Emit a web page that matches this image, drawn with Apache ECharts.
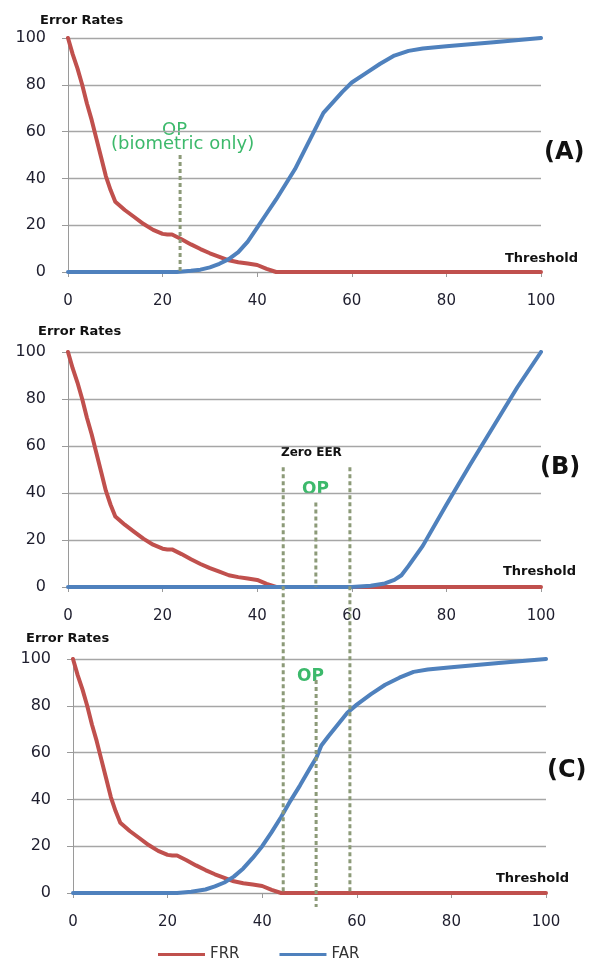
<!DOCTYPE html>
<html>
<head>
<meta charset="utf-8">
<script src="https://cdn.jsdelivr.net/npm/echarts@6/dist/echarts.min.js"></script>
<style>
html,body{margin:0;padding:0;background:#fff;}
#chart{width:590px;height:962px;}
</style>
</head>
<body>
<div id="chart"></div>
<script>
// ---- data ----
const xTicks = [0, 20, 40, 60, 80, 100];
const yTicks = [0, 20, 40, 60, 80, 100];

const frrT = [0, 1, 2, 3, 4, 5, 6, 7, 8, 9, 10, 12, 14, 16, 18, 20, 21, 22, 24, 26, 28, 30, 32, 34, 36, 38, 40, 42, 44, 100];
const frrV = [100, 93, 87, 80, 72, 65, 57, 49, 41, 35, 30, 26.5, 23.5, 20.5, 18, 16.3, 16, 16, 14, 11.8, 9.8, 8, 6.5, 5, 4.2, 3.6, 3, 1.3, 0, 0];

const farAT = [0, 23, 26, 28, 30, 32, 34, 36, 38, 40, 42, 44, 46, 48, 50, 52, 54, 56, 58, 60, 63, 66, 69, 72, 75, 80, 90, 100];
const farAV = [0, 0, 0.5, 1, 2, 3.5, 5.5, 8.5, 13, 19, 25, 31, 37.5, 44, 52, 60, 68, 72.5, 77, 81, 85, 89, 92.5, 94.5, 95.5, 96.5, 98.2, 100];

const farBT = [0, 60, 64, 67, 69, 70.5, 72, 75, 80, 85, 90, 95, 100];
const farBV = [0, 0, 0.5, 1.5, 3, 5, 9, 17.5, 35, 52, 68.5, 85, 100];

const farCT = [0, 22, 25, 28, 30, 32, 34, 36, 38, 40, 42, 44, 46, 48, 50, 51.5, 52.5, 54, 56, 58, 60, 63, 66, 69, 72, 75, 80, 90, 100];
const farCV = [0, 0, 0.5, 1.5, 2.8, 4.5, 7, 10.5, 15, 20, 26, 32.5, 39.5, 46, 53, 58, 63, 67, 72, 77, 80.5, 85, 89, 92, 94.5, 95.5, 96.5, 98.3, 100];

// annotation thresholds / heights
const opA = { t: 23.7, top: 50 };
const eerB = { lo: 45.5, hi: 59.6, top: 51 };
const opB = { t: 52.4, top: 36 };
const opC = { t: 51.4, top: 91, bottom: -6 };

const panelTags = ['(A)', '(B)', '(C)'];
const seriesNames = ['FRR', 'FAR'];

// ---- chart ----
const RED = '#c0504d', BLUE = '#4f81bd', GREEN = '#3cb96b', DASH = '#8c9a78';
const FONT = 'DejaVu Sans';
const zip = (a, b) => a.map((v, i) => [v, b[i]]);

const grids = [
  { left: 68, top: 38, width: 473, height: 234 },
  { left: 68, top: 352, width: 473, height: 235 },
  { left: 73, top: 659, width: 473, height: 234 }
];

function xAx(i) {
  return {
    type: 'value', gridIndex: i, min: 0, max: 100, interval: 20,
    axisLine: { show: true, lineStyle: { color: '#9a9a9a', width: 1 } },
    axisTick: { show: true, length: 5, lineStyle: { color: '#9a9a9a' } },
    splitLine: { show: false },
    axisLabel: { margin: 22, fontFamily: FONT, fontSize: 15, color: '#1e1e2e' }
  };
}
function yAx(i) {
  return {
    type: 'value', gridIndex: i, min: 0, max: 100, interval: 20,
    axisLine: { show: true, lineStyle: { color: '#9a9a9a', width: 1 } },
    axisTick: { show: true, length: 6, lineStyle: { color: '#9a9a9a' } },
    splitLine: { show: true, lineStyle: { color: '#a6a6a6', width: 1.3 } },
    axisLabel: { margin: 22, fontFamily: FONT, fontSize: 16, color: '#1e1e2e' }
  };
}
function line(name, i, data, color) {
  return {
    name: name, type: 'line', xAxisIndex: i, yAxisIndex: i,
    data: data, showSymbol: false, symbol: 'none',
    smooth: false,
    color: color,
    lineStyle: { color: color, width: 4, join: 'round', cap: 'round' },
    z: 3
  };
}

const textStyleBold = (size, color) => ({ fontFamily: FONT, fontWeight: 'bold', fontSize: size, fill: color });

const baseGraphic = [
  { id: 'erA', type: 'text', left: 40, top: 14, style: Object.assign({ text: 'Error Rates' }, textStyleBold(13, '#111')) },
  { id: 'erB', type: 'text', left: 38, top: 325, style: Object.assign({ text: 'Error Rates' }, textStyleBold(13, '#111')) },
  { id: 'erC', type: 'text', left: 26, top: 632, style: Object.assign({ text: 'Error Rates' }, textStyleBold(13, '#111')) },
  { id: 'thA', type: 'text', left: 505, top: 252, style: Object.assign({ text: 'Threshold' }, textStyleBold(13, '#111')) },
  { id: 'thB', type: 'text', left: 503, top: 565, style: Object.assign({ text: 'Threshold' }, textStyleBold(13, '#111')) },
  { id: 'thC', type: 'text', left: 496, top: 872, style: Object.assign({ text: 'Threshold' }, textStyleBold(13, '#111')) },
  { id: 'tagA', type: 'text', left: 544, top: 141, style: Object.assign({ text: panelTags[0] }, textStyleBold(24, '#111')) },
  { id: 'tagB', type: 'text', left: 540, top: 456, style: Object.assign({ text: panelTags[1] }, textStyleBold(24, '#111')) },
  { id: 'tagC', type: 'text', left: 547, top: 759, style: Object.assign({ text: panelTags[2] }, textStyleBold(24, '#111')) },
  { id: 'opA1', type: 'text', left: 162, top: 121, style: { text: 'OP', fontFamily: FONT, fontSize: 18, fill: GREEN } },
  { id: 'opA2', type: 'text', left: 111, top: 135, style: { text: '(biometric only)', fontFamily: FONT, fontSize: 18, fill: GREEN } },
  { id: 'zeer', type: 'text', left: 281, top: 447, style: Object.assign({ text: 'Zero EER' }, textStyleBold(12, '#111')) },
  { id: 'opB', type: 'text', left: 302, top: 481, style: Object.assign({ text: 'OP' }, textStyleBold(17, GREEN)) },
  { id: 'opC', type: 'text', left: 297, top: 668, style: Object.assign({ text: 'OP' }, textStyleBold(17, GREEN)) }
];

const option = {
  animation: false,
  backgroundColor: '#fff',
  grid: grids,
  xAxis: [xAx(0), xAx(1), xAx(2)],
  yAxis: [yAx(0), yAx(1), yAx(2)],
  legend: {
    data: seriesNames, left: 158, top: 947, padding: 0,
    icon: 'rect', itemWidth: 47, itemHeight: 3, itemGap: 40, itemTextGap: 4,
    textStyle: { fontFamily: FONT, fontSize: 15, color: '#333' }
  },
  series: [
    line(seriesNames[0], 0, zip(frrT, frrV), RED),
    line(seriesNames[1], 0, zip(farAT, farAV), BLUE),
    line(seriesNames[0], 1, zip(frrT, frrV), RED),
    line(seriesNames[1], 1, zip(farBT, farBV), BLUE),
    line(seriesNames[0], 2, zip(frrT, frrV), RED),
    line(seriesNames[1], 2, zip(farCT, farCV), BLUE)
  ],
  graphic: baseGraphic
};

const chart = echarts.init(document.getElementById('chart'), null, { renderer: 'canvas' });
chart.setOption(option);

function dashLine(id, p1, p2) {
  return {
    id: id, type: 'line', z: 10,
    shape: { x1: p1[0], y1: p1[1], x2: p2[0], y2: p2[1] },
    style: { stroke: DASH, lineWidth: 3, lineDash: [4, 3] }
  };
}
const px = (g, v) => chart.convertToPixel({ gridIndex: g }, v);
const cBottom = px(2, [0, 0])[1];

const lines = [];
// A: operating point (biometric only)
lines.push(dashLine('dA', px(0, [opA.t, opA.top]), px(0, [opA.t, 0])));
// B/C: zero EER range spanning both panels
const eLo = px(1, [eerB.lo, eerB.top]);
const eHi = px(1, [eerB.hi, eerB.top]);
lines.push(dashLine('dLo', eLo, [eLo[0], cBottom]));
lines.push(dashLine('dHi', eHi, [eHi[0], cBottom]));
// B OP
lines.push(dashLine('dOpB', px(1, [opB.t, opB.top]), px(1, [opB.t, 0])));
// C OP
lines.push(dashLine('dOpC', px(2, [opC.t, opC.top]), px(2, [opC.t, opC.bottom])));

chart.setOption({ graphic: baseGraphic.concat(lines) });
</script>
</body>
</html>
